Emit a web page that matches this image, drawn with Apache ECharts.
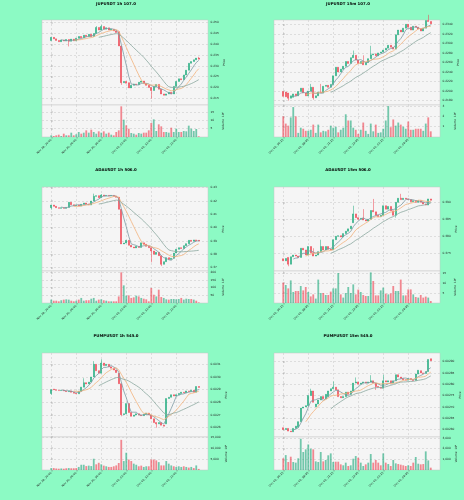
<!DOCTYPE html>
<html>
<head>
<meta charset="utf-8">
<script src="https://cdn.jsdelivr.net/npm/echarts@6/dist/echarts.min.js"></script>
<style>
html, body { margin: 0; padding: 0; background: #8cfac4; }
#main { width: 464px; height: 500px; }
</style>
</head>
<body>
<div id="main"></div>
<script>
// ---- data ----
const hourLabels = ['Nov 29, 20:00', 'Nov 30, 06:00', 'Nov 30, 16:00', 'Dec 01, 02:00', 'Dec 01, 12:00', 'Dec 01, 22:00'];
const quarterLabels = ['Dec 01, 16:15', 'Dec 01, 18:45', 'Dec 01, 21:15', 'Dec 01, 23:45', 'Dec 02, 02:15', 'Dec 02, 04:45'];

// JUPUSDT 1h
const jup1hOpen = [0.2417,0.2432,0.2425,0.2418,0.2412,0.2420,0.2415,0.2422,0.2414,0.2424, 0.2416,0.2428,0.2436,0.2430,0.2442,0.2436,0.2446,0.2436,0.2450,0.2478, 0.2466,0.2482,0.2470,0.2476,0.2466,0.2470,0.2462,0.2458,0.2392,0.2222, 0.2228,0.2222,0.2198,0.2210,0.2216,0.2213,0.2224,0.2230,0.2218,0.2210, 0.2200,0.2186,0.2204,0.2214,0.2192,0.2170,0.2164,0.2170,0.2178,0.2170, 0.2205,0.2228,0.2240,0.2236,0.2258,0.2280,0.2312,0.2320,0.2328,0.2336];
const jup1hClose = [0.2432,0.2425,0.2418,0.2412,0.2420,0.2415,0.2422,0.2414,0.2424,0.2416, 0.2428,0.2436,0.2430,0.2442,0.2436,0.2446,0.2436,0.2450,0.2478,0.2466, 0.2482,0.2470,0.2476,0.2466,0.2470,0.2462,0.2455,0.2392,0.2222,0.2228, 0.2220,0.2198,0.2210,0.2216,0.2213,0.2224,0.2230,0.2218,0.2210,0.2200, 0.2186,0.2204,0.2214,0.2192,0.2170,0.2164,0.2170,0.2178,0.2170,0.2205, 0.2228,0.2240,0.2236,0.2258,0.2280,0.2312,0.2320,0.2328,0.2336,0.2331];
const jup1hHigh = { 18: 0.2484, 20: 0.2490, 59: 0.2342 };
const jup1hLow = { 7: 0.2390, 28: 0.2212, 40: 0.2148 };
const jup1hVol = [1.0,0.6,1.0,1.4,0.6,2.0,1.0,1.0,2.6,1.0, 1.6,3.0,2.0,2.6,4.0,2.6,4.4,3.0,2.0,3.4, 2.6,3.4,2.0,2.6,1.4,1.0,3.0,4.0,18.4,10.4, 7.0,5.0,2.4,2.0,1.4,2.4,2.0,2.6,2.6,4.0, 8.4,10.6,3.6,7.6,6.4,3.0,3.0,2.6,5.6,3.0, 5.0,3.0,3.0,3.6,3.4,6.8,5.0,3.6,4.8,0.4];
const jup1hTicks = [0.215, 0.220, 0.225, 0.230, 0.235, 0.240, 0.245, 0.250];
const jup1hVolTicks = [5, 10, 15];

// JUPUSDT 15m
const jup15mOpen = [0.2199,0.2198,0.2196,0.2185,0.2187,0.2194,0.2190,0.2199,0.2206,0.2196, 0.2190,0.2200,0.2208,0.2186,0.2190,0.2198,0.2196,0.2210,0.2212,0.2208, 0.2214,0.2232,0.2250,0.2240,0.2246,0.2252,0.2262,0.2258,0.2270,0.2275, 0.2265,0.2258,0.2262,0.2255,0.2260,0.2268,0.2276,0.2278,0.2274,0.2280, 0.2282,0.2286,0.2290,0.2296,0.2292,0.2288,0.2318,0.2328,0.2324,0.2332, 0.2340,0.2334,0.2328,0.2336,0.2334,0.2330,0.2326,0.2332,0.2348,0.2346];
const jup15mClose = [0.2189,0.2188,0.2185,0.2190,0.2194,0.2190,0.2199,0.2206,0.2196,0.2190, 0.2200,0.2208,0.2186,0.2190,0.2198,0.2196,0.2210,0.2212,0.2208,0.2214, 0.2232,0.2250,0.2240,0.2246,0.2252,0.2262,0.2258,0.2270,0.2275,0.2265, 0.2258,0.2262,0.2255,0.2260,0.2268,0.2276,0.2278,0.2274,0.2280,0.2282, 0.2286,0.2290,0.2296,0.2292,0.2288,0.2318,0.2328,0.2324,0.2332,0.2340, 0.2334,0.2328,0.2336,0.2334,0.2330,0.2326,0.2332,0.2348,0.2346,0.2341];
const jup15mHigh = { 11: 0.2215, 15: 0.2215, 28: 0.2285, 32: 0.2275, 35: 0.2295, 58: 0.2360 };
const jup15mLow = { 2: 0.2180, 12: 0.2182 };
const jup15mVol = [2.0,1.3,1.1,1.9,2.9,2.0,0.4,0.9,0.8,0.6, 0.6,0.7,1.2,0.4,1.2,0.45,0.6,0.55,0.7,1.1, 0.9,1.0,0.45,0.7,0.9,2.2,1.6,1.6,0.9,0.7, 0.3,0.7,1.4,0.6,0.3,1.3,0.55,1.2,0.4,0.45, 0.8,1.6,3.0,0.95,1.7,1.1,1.4,1.2,1.0,0.8, 1.5,0.7,0.7,0.8,0.8,0.8,0.6,1.3,1.9,0.55];
const jup15mTicks = [0.218, 0.220, 0.222, 0.224, 0.226, 0.228, 0.230, 0.232, 0.234];
const jup15mVolTicks = [1, 2, 3];

// ADAUSDT 1h
const ada1hOpen = [0.4150,0.4170,0.4160,0.4150,0.4145,0.4150,0.4145,0.4152,0.4190,0.4172, 0.4165,0.4170,0.4162,0.4175,0.4185,0.4178,0.4170,0.4200,0.4235,0.4240, 0.4225,0.4245,0.4238,0.4242,0.4238,0.4242,0.4235,0.4228,0.4138,0.3878, 0.3885,0.3905,0.3868,0.3855,0.3848,0.3860,0.3852,0.3886,0.3875,0.3860, 0.3850,0.3825,0.3800,0.3815,0.3790,0.3725,0.3745,0.3775,0.3762,0.3770, 0.3810,0.3838,0.3850,0.3843,0.3865,0.3880,0.3905,0.3898,0.3908,0.3905];
const ada1hClose = [0.4170,0.4160,0.4150,0.4145,0.4150,0.4145,0.4152,0.4190,0.4172,0.4165, 0.4170,0.4162,0.4175,0.4185,0.4178,0.4170,0.4200,0.4235,0.4240,0.4225, 0.4245,0.4238,0.4242,0.4238,0.4242,0.4235,0.4228,0.4138,0.3878,0.3885, 0.3905,0.3868,0.3855,0.3848,0.3860,0.3852,0.3886,0.3875,0.3860,0.3850, 0.3825,0.3800,0.3815,0.3790,0.3725,0.3745,0.3775,0.3762,0.3770,0.3810, 0.3838,0.3850,0.3843,0.3865,0.3880,0.3905,0.3898,0.3908,0.3902,0.3900];
const ada1hHigh = { 17: 0.4255, 20: 0.4252 };
const ada1hLow = { 0: 0.4135, 40: 0.3740, 44: 0.3712 };
const ada1hVol = [22,15,15,11,18,22,24,22,15,11, 15,22,33,15,18,18,28,33,15,22, 24,18,15,11,11,11,11,43,200,115, 48,50,33,37,48,43,33,28,24,11, 98,54,43,87,39,33,24,22,26,26, 24,26,33,22,28,26,26,22,15,4];
const ada1hTicks = [0.37, 0.38, 0.39, 0.40, 0.41, 0.42, 0.43];
const ada1hVolTicks = [50, 100, 150, 200];

// ADAUSDT 15m
const ada15mOpen = [0.3734,0.3728,0.3738,0.3718,0.3740,0.3745,0.3742,0.3738,0.3765,0.3760, 0.3745,0.3770,0.3752,0.3742,0.3745,0.3755,0.3770,0.3760,0.3770,0.3762, 0.3760,0.3790,0.3800,0.3802,0.3798,0.3808,0.3815,0.3822,0.3840,0.3866, 0.3855,0.3850,0.3853,0.3848,0.3845,0.3850,0.3876,0.3872,0.3862,0.3858, 0.3862,0.3890,0.3880,0.3888,0.3875,0.3862,0.3900,0.3912,0.3908,0.3912, 0.3910,0.3908,0.3902,0.3905,0.3900,0.3905,0.3900,0.3895,0.3892,0.3910];
const ada15mClose = [0.3728,0.3735,0.3718,0.3740,0.3745,0.3742,0.3738,0.3765,0.3760,0.3745, 0.3770,0.3752,0.3742,0.3745,0.3755,0.3770,0.3760,0.3770,0.3762,0.3760, 0.3790,0.3800,0.3802,0.3798,0.3808,0.3815,0.3822,0.3830,0.3866,0.3855, 0.3850,0.3853,0.3848,0.3845,0.3850,0.3876,0.3872,0.3862,0.3858,0.3862, 0.3890,0.3880,0.3888,0.3875,0.3862,0.3900,0.3912,0.3908,0.3912,0.3910, 0.3908,0.3902,0.3905,0.3900,0.3905,0.3900,0.3895,0.3892,0.3910,0.3906];
const ada15mHigh = { 12: 0.3765, 15: 0.3790, 28: 0.3890, 32: 0.3880, 36: 0.3910, 47: 0.3925 };
const ada15mLow = { 2: 0.3712, 45: 0.3855 };
const ada15mVol = [10.2,9,7.3,11.3,5.5,6,6,8.5,6.3,8, 5.5,3.3,4.3,2.2,11.7,5,5,4,4,5.7, 7.3,7.3,15,4.3,2.7,5,8,5,9.3,4.3, 6.7,5.5,4,3.5,3.5,15.3,11,3.8,3.8,6.3, 7.7,4.7,4.3,4.8,8.5,6,6,11.7,3.8,3.8, 6.8,6.8,4.3,3,2.7,4,2.7,3.2,2.7,1];
const ada15mTicks = [0.375, 0.380, 0.385, 0.390];
const ada15mVolTicks = [5, 10, 15];

// PUMPUSDT 1h
const pump1hOpen = [0.002870,0.002905,0.002900,0.002895,0.002893,0.002896,0.002890,0.002885,0.002890,0.002880, 0.002872,0.002868,0.002888,0.002920,0.002955,0.002945,0.002960,0.003000,0.003100,0.003050, 0.003030,0.003110,0.003090,0.003100,0.003080,0.003070,0.003055,0.003030,0.002947,0.002703, 0.002710,0.002790,0.002720,0.002690,0.002700,0.002710,0.002700,0.002695,0.002705,0.002715, 0.002700,0.002670,0.002640,0.002630,0.002640,0.002620,0.002630,0.002830,0.002840,0.002860, 0.002850,0.002860,0.002870,0.002880,0.002875,0.002890,0.002885,0.002895,0.002880,0.002925];
const pump1hClose = [0.002900,0.002900,0.002895,0.002893,0.002896,0.002890,0.002885,0.002890,0.002880,0.002872, 0.002868,0.002888,0.002920,0.002955,0.002945,0.002960,0.003000,0.003100,0.003050,0.003030, 0.003110,0.003090,0.003100,0.003080,0.003070,0.003055,0.003035,0.002947,0.002703,0.002710, 0.002790,0.002720,0.002690,0.002700,0.002710,0.002700,0.002695,0.002705,0.002715,0.002700, 0.002670,0.002640,0.002630,0.002640,0.002620,0.002612,0.002830,0.002840,0.002860,0.002850, 0.002860,0.002870,0.002880,0.002875,0.002890,0.002885,0.002895,0.002880,0.002925,0.002918];
const pump1hHigh = { 13: 0.002990, 17: 0.003125, 20: 0.003140 };
const pump1hLow = { 0: 0.002860, 28: 0.002690, 42: 0.002600 };
const pump1hVol = [900,900,700,600,700,600,800,900,800,800, 900,1400,2400,2400,1800,2000,1800,5150,2600,3300, 2600,2000,1700,1400,1400,1700,2100,3200,13800,4100, 7900,4800,4100,2900,2400,1700,2000,1400,1700,1700, 4800,4800,4400,3600,2100,2100,4100,2900,2100,1700, 1400,1700,1400,1700,1400,1100,1400,900,2100,500];
const pump1hTicks = [0.0026, 0.0027, 0.0028, 0.0029, 0.0030, 0.0031];
const pump1hVolTicks = [5000, 10000, 15000];

// PUMPUSDT 15m
const pump15mOpen = [0.002607,0.002599,0.002604,0.002592,0.002589,0.002604,0.002609,0.002634,0.002694,0.002699, 0.002705,0.002750,0.002770,0.002700,0.002712,0.002730,0.002745,0.002735,0.002745,0.002770, 0.002780,0.002787,0.002775,0.002745,0.002740,0.002745,0.002765,0.002755,0.002770,0.002805, 0.002810,0.002800,0.002805,0.002810,0.002805,0.002810,0.002815,0.002805,0.002790,0.002787, 0.002782,0.002815,0.002810,0.002815,0.002805,0.002815,0.002842,0.002832,0.002825,0.002820, 0.002818,0.002825,0.002820,0.002817,0.002845,0.002860,0.002850,0.002848,0.002856,0.002913];
const pump15mClose = [0.002599,0.002604,0.002592,0.002589,0.002604,0.002614,0.002634,0.002694,0.002699,0.002705, 0.002750,0.002770,0.002720,0.002712,0.002730,0.002745,0.002735,0.002755,0.002770,0.002780, 0.002787,0.002775,0.002745,0.002740,0.002745,0.002765,0.002755,0.002770,0.002805,0.002810, 0.002800,0.002805,0.002810,0.002805,0.002810,0.002815,0.002805,0.002790,0.002787,0.002782, 0.002815,0.002810,0.002815,0.002805,0.002815,0.002842,0.002832,0.002825,0.002820,0.002818, 0.002825,0.002820,0.002817,0.002845,0.002862,0.002850,0.002848,0.002856,0.002910,0.002904];
const pump15mHigh = { 11: 0.002780, 20: 0.002812, 29: 0.002830, 35: 0.002840, 40: 0.002842 };
const pump15mLow = { 37: 0.002775 };
const pump15mVol = [1100,1400,750,1250,750,690,1100,2940,1690,1940, 2400,2000,1940,810,750,1690,810,940,1380,1560, 750,780,780,530,440,690,375,440,1060,1310, 1150,690,375,530,690,1500,690,940,690,440, 1560,690,560,375,940,625,560,500,440,375, 440,375,690,1220,590,530,560,1750,900,220];
const pump15mTicks = [0.0026, 0.00265, 0.0027, 0.00275, 0.0028, 0.00285, 0.0029];
const pump15mVolTicks = [1000, 2000, 3000];

const maPeriods = [5, 10, 20];
const tickIdx = [0, 10, 20, 30, 40, 50];

// ---- layout / style ----
const BG = '#8cfac4';
const PLOT_BG = '#f5f5f5';
const GRID_C = '#cdcdcd';
const SPINE = '#c4c4c4';
const TXT = '#222';
const UP = '#1ba97a';
const DOWN = '#ef3e4d';
const UP_V = 'rgba(27,169,122,0.6)';
const DOWN_V = 'rgba(239,62,77,0.6)';
const MA_COLORS = ['#7d9aa3', '#f2b27c', '#8aa79e'];
const FONT = 'DejaVu Sans';

const colLeft = [42, 274];
const plotW = 166;
const rowTop = [20, 187, 353];
const priceH = [85, 84, 84];
const volH = [32, 32, 33];
const titleX = [116, 348];
const titleY = [3.5, 170, 336];
const X_MIN = -3.7, X_MAX = 62.7;

const panels = [
    { title: 'JUPUSDT 1h 107.0', col: 0, row: 0, open: jup1hOpen, close: jup1hClose, hi: jup1hHigh, lo: jup1hLow, vol: jup1hVol,
      xLabels: hourLabels, ticks: jup1hTicks, yMin: 0.21188, yMax: 0.25124, digits: 3, volTicks: jup1hVolTicks, volMax: 19.2, volName: 'Volume  10⁶' },
    { title: 'JUPUSDT 15m 107.0', col: 1, row: 0, open: jup15mOpen, close: jup15mClose, hi: jup15mHigh, lo: jup15mLow, vol: jup15mVol,
      xLabels: quarterLabels, ticks: jup15mTicks, yMin: 0.217076, yMax: 0.234909, digits: 4, volTicks: jup15mVolTicks, volMax: 3.1, volName: 'Volume  10⁶' },
    { title: 'ADAUSDT 1h 506.0', col: 0, row: 1, open: ada1hOpen, close: ada1hClose, hi: ada1hHigh, lo: ada1hLow, vol: ada1hVol,
      xLabels: hourLabels, ticks: ada1hTicks, yMin: 0.3675, yMax: 0.4305, digits: 2, volTicks: ada1hVolTicks, volMax: 208.7, volName: 'Volume  10⁵' },
    { title: 'ADAUSDT 15m 506.0', col: 1, row: 1, open: ada15mOpen, close: ada15mClose, hi: ada15mHigh, lo: ada15mLow, vol: ada15mVol,
      xLabels: quarterLabels, ticks: ada15mTicks, yMin: 0.369803, yMax: 0.394509, digits: 3, volTicks: ada15mVolTicks, volMax: 16, volName: 'Volume  10⁶' },
    { title: 'PUMPUSDT 1h 545.0', col: 0, row: 2, open: pump1hOpen, close: pump1hClose, hi: pump1hHigh, lo: pump1hLow, vol: pump1hVol,
      xLabels: hourLabels, ticks: pump1hTicks, yMin: 0.0025264, yMax: 0.0031894, digits: 4, volTicks: pump1hVolTicks, volMax: 15100, volName: 'Volume  10⁶' },
    { title: 'PUMPUSDT 15m 545.0', col: 1, row: 2, open: pump15mOpen, close: pump15mClose, hi: pump15mHigh, lo: pump15mLow, vol: pump15mVol,
      xLabels: quarterLabels, ticks: pump15mTicks, yMin: 0.0025658, yMax: 0.0029385, digits: 5, volTicks: pump15mVolTicks, volMax: 3100, volName: 'Volume  10⁶' }
];

// simple moving average of the closes
function sma(arr, n) {
    const out = [];
    for (let i = n - 1; i < arr.length; i++) {
        let s = 0;
        for (let j = i - n + 1; j <= i; j++) s += arr[j];
        out.push([i, s / n]);
    }
    return out;
}

const grids = [], xAxes = [], yAxes = [], series = [], graphics = [];
const splitStyle = { show: true, lineStyle: { color: GRID_C, type: [2, 2], width: 0.6 } };
const tickStyle = { color: '#444', width: 0.4 };

panels.forEach((p, k) => {
    const left = colLeft[p.col];
    const top = rowTop[p.row];
    const gP = k * 2, gV = k * 2 + 1;

    grids.push({ left, top, width: plotW, height: priceH[p.row], show: true, backgroundColor: PLOT_BG,
        borderColor: SPINE, borderWidth: 0.5, containLabel: false, outerBoundsMode: 'none' });
    grids.push({ left, top: top + priceH[p.row], width: plotW, height: volH[p.row], show: true, backgroundColor: PLOT_BG,
        borderColor: SPINE, borderWidth: 0.5, containLabel: false, outerBoundsMode: 'none' });

    xAxes.push({ type: 'value', gridIndex: gP, min: X_MIN, max: X_MAX,
        axisLine: { show: false }, axisTick: { show: false, customValues: tickIdx },
        axisLabel: { show: false, customValues: tickIdx }, splitLine: splitStyle });
    xAxes.push({ type: 'value', gridIndex: gV, min: X_MIN, max: X_MAX,
        axisLine: { show: false },
        axisTick: { show: true, length: 1.5, lineStyle: tickStyle, customValues: tickIdx },
        axisLabel: { customValues: tickIdx, formatter: v => p.xLabels[Math.round(v / 10)],
            rotate: 45, fontSize: 2.8, fontFamily: FONT, color: TXT, margin: 2.5 },
        splitLine: splitStyle });

    yAxes.push({ type: 'value', gridIndex: gP, position: 'right', min: p.yMin, max: p.yMax,
        axisLine: { show: false },
        axisTick: { show: true, length: 1.5, lineStyle: tickStyle, customValues: p.ticks },
        axisLabel: { customValues: p.ticks, formatter: v => v.toFixed(p.digits),
            fontSize: 2.9, fontFamily: FONT, color: TXT, margin: 2.5 },
        splitLine: splitStyle,
        name: 'Price', nameLocation: 'middle', nameGap: 14, nameRotate: 90,
        nameTextStyle: { fontSize: 2.9, fontFamily: FONT, color: TXT } });
    yAxes.push({ type: 'value', gridIndex: gV, position: 'right', min: 0, max: p.volMax,
        axisLine: { show: false },
        axisTick: { show: true, length: 1.5, lineStyle: tickStyle, customValues: p.volTicks },
        axisLabel: { customValues: p.volTicks, fontSize: 2.9, fontFamily: FONT, color: TXT, margin: 2.5 },
        splitLine: splitStyle,
        name: p.volName, nameLocation: 'middle', nameGap: 14, nameRotate: 90,
        nameTextStyle: { fontSize: 2.9, fontFamily: FONT, color: TXT } });

    const candles = p.open.map((o, i) => {
        const c = p.close[i];
        const h = p.hi[i] !== undefined ? p.hi[i] : Math.max(o, c);
        const l = p.lo[i] !== undefined ? p.lo[i] : Math.min(o, c);
        return [i, o, c, l, h];
    });
    series.push({ type: 'candlestick', xAxisIndex: gP, yAxisIndex: gP, data: candles,
        encode: { x: 0, y: [1, 2, 3, 4] }, barWidth: 1.6, animation: false, silent: true,
        itemStyle: { color: UP, color0: DOWN, borderColor: UP, borderColor0: DOWN, borderWidth: 0.5 } });

    maPeriods.forEach((n, m) => {
        series.push({ type: 'line', xAxisIndex: gP, yAxisIndex: gP, data: sma(p.close, n),
            showSymbol: false, symbol: 'none', animation: false, silent: true, z: 3,
            lineStyle: { width: 0.8, color: MA_COLORS[m] }, itemStyle: { color: MA_COLORS[m] } });
    });

    series.push({ type: 'bar', xAxisIndex: gV, yAxisIndex: gV, barWidth: 1.8, animation: false, silent: true,
        data: p.vol.map((v, i) => ({ value: [i, v], itemStyle: { color: p.close[i] >= p.open[i] ? UP_V : DOWN_V } })) });

    graphics.push({ type: 'text', x: titleX[p.col], y: titleY[p.row],
        style: { text: p.title, fontSize: 3.9, fontWeight: 'bold', fontFamily: FONT, fill: '#000',
            align: 'center', verticalAlign: 'middle' } });
});

const chart = echarts.init(document.getElementById('main'), null, { width: 464, height: 500 });
chart.setOption({
    backgroundColor: BG,
    animation: false,
    grid: grids,
    xAxis: xAxes,
    yAxis: yAxes,
    series: series,
    graphic: graphics
});
</script>
</body>
</html>
